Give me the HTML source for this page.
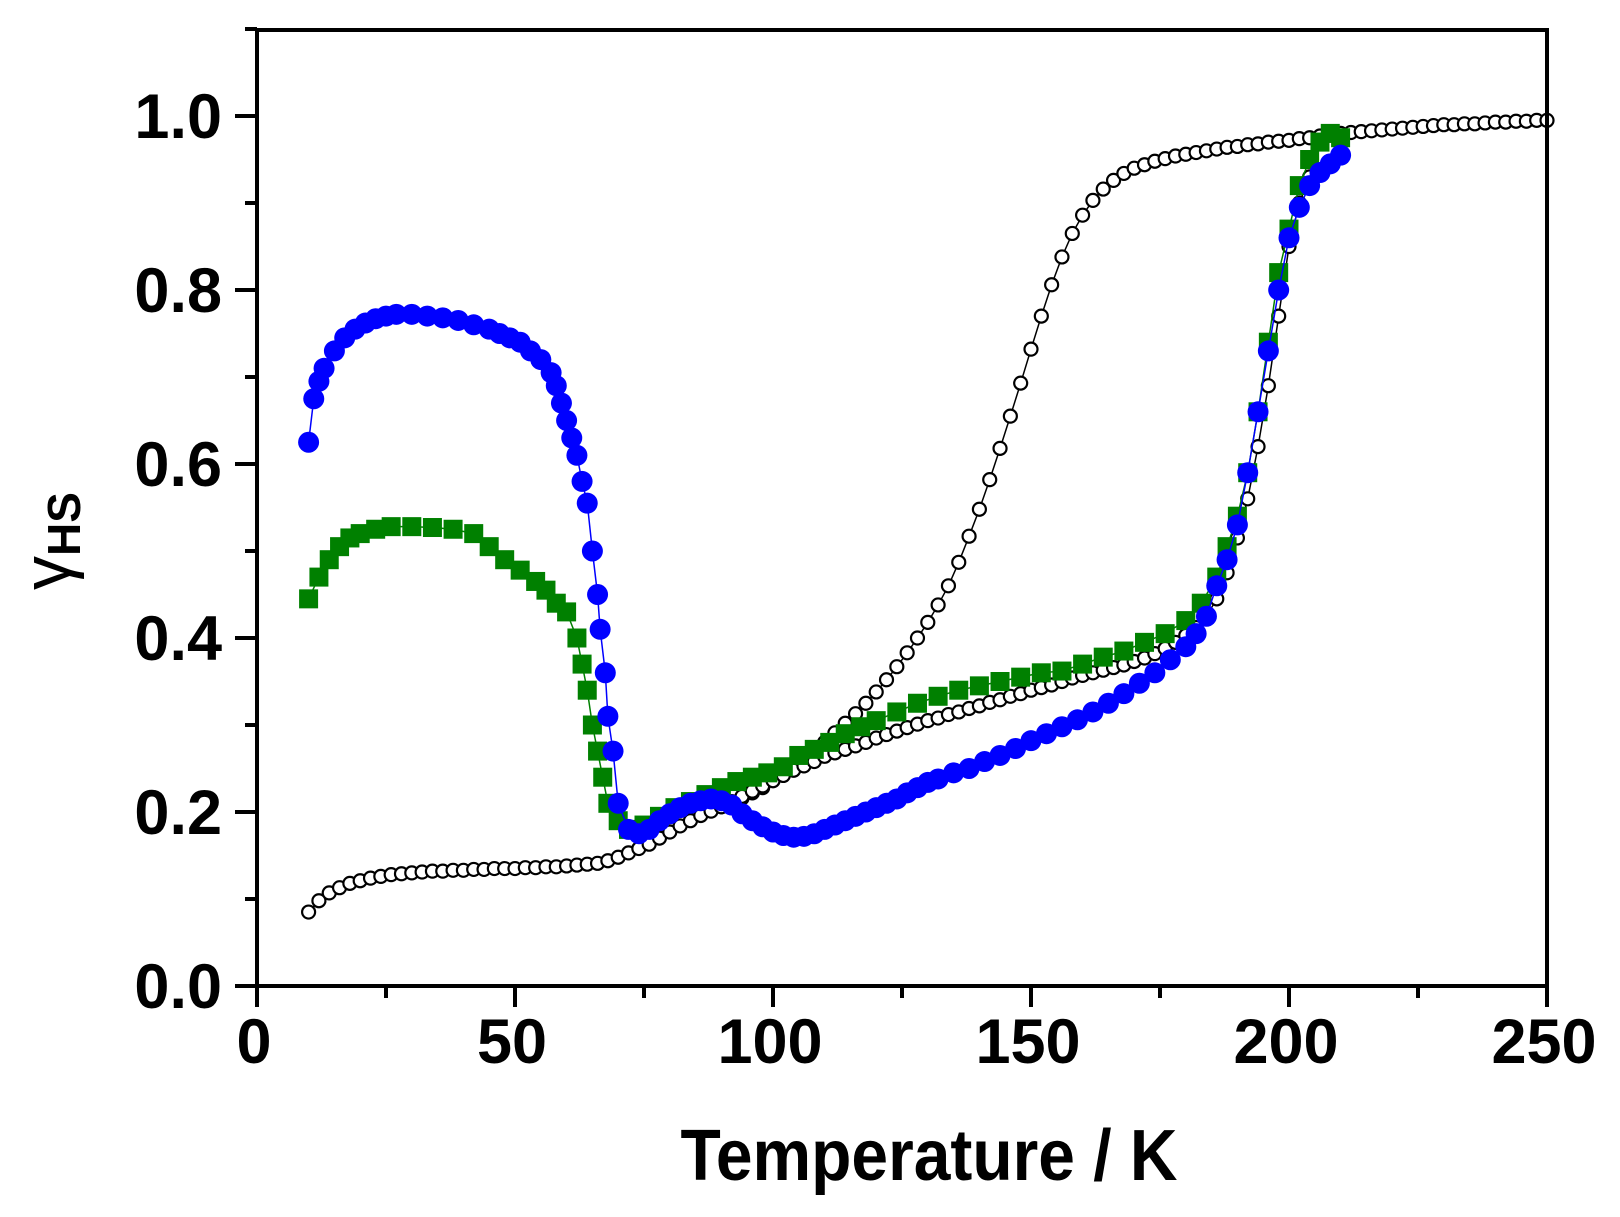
<!DOCTYPE html>
<html><head><meta charset="utf-8"><style>
html,body{margin:0;padding:0;background:#fff;}
svg{display:block;font-family:"Liberation Sans",Arial,sans-serif;font-weight:bold;}
</style></head><body>
<svg id="chart" width="1620" height="1217" viewBox="0 0 1620 1217" xmlns="http://www.w3.org/2000/svg">
<g id="series"></g>
<g id="axes"></g>
<text x="929" y="1180" font-size="72" text-anchor="middle" textLength="497" lengthAdjust="spacingAndGlyphs">Temperature / K</text>
<g transform="translate(70,590) rotate(-90)">
<text x="0" y="0" font-size="68" font-weight="normal">γ<tspan font-size="46" font-weight="bold" dy="10">HS</tspan></text>
</g>
</svg>
<script>
const warmT=[10,12,14,16,18,20,22,24,26,28,30,32,34,36,38,40,42,44,46,48,50,52,54,56,58,60,62,64,66,68,70,72,74,76,78,80,82,84,86,88,90,92,94,96,98,100,102,104,106,108,110,112,114,116,118,120,122,124,126,128,130,132,134,136,138,140,142,144,146,148,150,152,154,156,158,160,162,164,166,168,170,172,174,176,178,180,182,184,186,188,190,192,194,196,198,200,202,204,206,208,210,212,214,216,218,220,222,224,226,228,230,232,234,236,238,240,242,244,246,248,250];
const warmY=[.085,.098,.107,.113,.118,.121,.124,.126,.128,.129,.130,.131,.132,.132,.133,.133,.134,.134,.135,.135,.135,.136,.136,.137,.137,.138,.139,.140,.141,.144,.148,.153,.158,.163,.170,.177,.184,.190,.196,.201,.206,.211,.216,.222,.228,.236,.244,.252,.261,.270,.280,.291,.302,.313,.325,.338,.352,.367,.383,.400,.418,.438,.460,.487,.517,.548,.582,.618,.655,.693,.732,.770,.806,.838,.865,.886,.903,.916,.926,.934,.940,.944,.948,.951,.954,.956,.958,.960,.962,.964,.965,.967,.968,.970,.971,.972,.974,.975,.977,.978,.980,.981,.982,.983,.984,.985,.986,.987,.988,.989,.990,.990,.991,.991,.992,.993,.993,.994,.994,.995,.995];
const coolT=[90,92,94,96,98,100,102,104,106,108,110,112,114,116,118,120,122,124,126,128,130,132,134,136,138,140,142,144,146,148,150,152,154,156,158,160,162,164,166,168,170,172,174,176,178,180,182,184,186,188,190,192,194,196,198,200,202,204];
const coolY=[.206,.212,.218,.224,.230,.236,.242,.248,.253,.258,.264,.268,.272,.276,.280,.285,.289,.293,.297,.301,.305,.308,.312,.315,.319,.322,.326,.329,.333,.336,.340,.343,.346,.350,.354,.357,.360,.363,.366,.369,.373,.377,.382,.388,.395,.403,.412,.425,.445,.475,.515,.560,.620,.690,.770,.850,.900,.930];
const blueT=[10,11,12,13,15,17,19,21,23,25,27,30,33,36,39,42,45,47,49,51,53,55,57,58,59,60,61,62,63,64,65,66,66.5,67.5,68,69,70,72,74,76,78,80,82,84,86,88,90,92,94,96,98,100,102,104,106,108,110,112,114,116,118,120,122,124,126,128,130,132,135,138,141,144,147,150,153,156,159,162,165,168,171,174,177,180,182,184,186,188,190,192,194,196,198,200,202,204,206,208,210];
const blueY=[.625,.675,.695,.71,.73,.745,.755,.762,.767,.77,.772,.772,.77,.768,.765,.76,.755,.75,.745,.74,.73,.72,.705,.69,.67,.65,.63,.61,.58,.555,.50,.45,.41,.36,.31,.27,.21,.18,.175,.18,.19,.198,.205,.21,.213,.215,.213,.208,.198,.19,.183,.177,.173,.171,.172,.175,.18,.185,.19,.195,.20,.205,.21,.215,.222,.228,.234,.238,.245,.25,.258,.265,.273,.282,.29,.298,.306,.315,.325,.336,.348,.36,.375,.39,.405,.425,.46,.49,.53,.59,.66,.73,.80,.86,.895,.92,.935,.945,.955];
const greenT=[10,12,14,16,18,20,23,26,30,34,38,42,45,48,51,54,56,58,60,62,63,64,65,66,67,68,70,72,75,78,81,84,87,90,93,96,99,102,105,108,111,114,117,120,124,128,132,136,140,144,148,152,156,160,164,168,172,176,180,183,186,188,190,192,194,196,198,200,202,204,206,208,210];
const greenY=[.445,.47,.49,.505,.515,.52,.525,.528,.528,.527,.525,.52,.505,.49,.478,.465,.455,.44,.43,.40,.37,.34,.30,.27,.24,.21,.19,.18,.185,.195,.205,.212,.22,.228,.235,.24,.245,.252,.265,.272,.28,.29,.298,.305,.315,.325,.333,.34,.345,.35,.355,.36,.362,.37,.378,.385,.395,.405,.42,.44,.47,.505,.54,.59,.66,.74,.82,.87,.92,.95,.97,.98,.975];
const xTicks=[0,50,100,150,200,250];
const xTickLabels=["0","50","100","150","200","250"];
const yTicks=[0,0.2,0.4,0.6,0.8,1.0];
const yTickLabels=["0.0","0.2","0.4","0.6","0.8","1.0"];

const NS="http://www.w3.org/2000/svg";
const X0=257,X1=1547,Y0=986,Y1=116;
function xs(t){return X0+(t-0)*(X1-X0)/250;}
function ys(v){return Y0-v*(Y0-Y1);}
function mk(tag,attrs,parent){const e=document.createElementNS(NS,tag);for(const k in attrs)e.setAttribute(k,attrs[k]);parent.appendChild(e);return e;}
const S=document.getElementById('series'),A=document.getElementById('axes');

function line(T,Y,color,name){
  const p=mk('polyline',{points:T.map((t,i)=>xs(t)+','+ys(Y[i])).join(' '),fill:'none',stroke:color,'stroke-width':1.5},S);
  
  
}
function circles(T,Y,r,fill,stroke,sw,name){
  const g=mk('g',{},S);
  
  
  T.forEach((t,i)=>{const c=mk('circle',{cx:xs(t),cy:ys(Y[i]),r:r,fill:fill,stroke:stroke,'stroke-width':sw},g);
    
    });
}
function squares(T,Y,s,fill,name){
  const g=mk('g',{},S);
  
  
  T.forEach((t,i)=>{const c=mk('rect',{x:xs(t)-s/2,y:ys(Y[i])-s/2,width:s,height:s,fill:fill},g);
    
    });
}
line(warmT,warmY,'#000','warming-line');
line(coolT,coolY,'#000','cooling-line');
circles(warmT,warmY,6.5,'#fff','#000',2.2,'warming-series');
circles(coolT,coolY,6.5,'#fff','#000',2.2,'cooling-series');
line(greenT,greenY,'#008000','green-line');
squares(greenT,greenY,19,'#008000','green-series');
line(blueT,blueY,'#0000ff','blue-line');
circles(blueT,blueY,10.5,'#0000ff','none',0,'blue-series');

const fr=mk('rect',{x:X0,y:30,width:X1-X0,height:Y0-30,fill:'none',stroke:'#000','stroke-width':4},A);


for(let t=0;t<=250;t+=25){const major=t%50===0;
  const l=mk('line',{x1:xs(t),x2:xs(t),y1:Y0,y2:Y0+(major?21:12),stroke:'#000','stroke-width':4},A);
  
  }
xTicks.forEach((t,i)=>{const tx=mk('text',{x:xs(t)-3,y:1063,'font-size':63,'text-anchor':'middle'},A);tx.textContent=xTickLabels[i];
  
  });
for(let k=0;k<=11;k++){const v=k/10;const major=k%2===0;
  const l=mk('line',{x1:X0,x2:X0-(major?22:12),y1:ys(v),y2:ys(v),stroke:'#000','stroke-width':4},A);
  
  }
yTicks.forEach((v,i)=>{const tx=mk('text',{x:222,y:ys(v)+22,'font-size':63,'text-anchor':'end'},A);tx.textContent=yTickLabels[i];
  
  });
</script>
</body></html>
